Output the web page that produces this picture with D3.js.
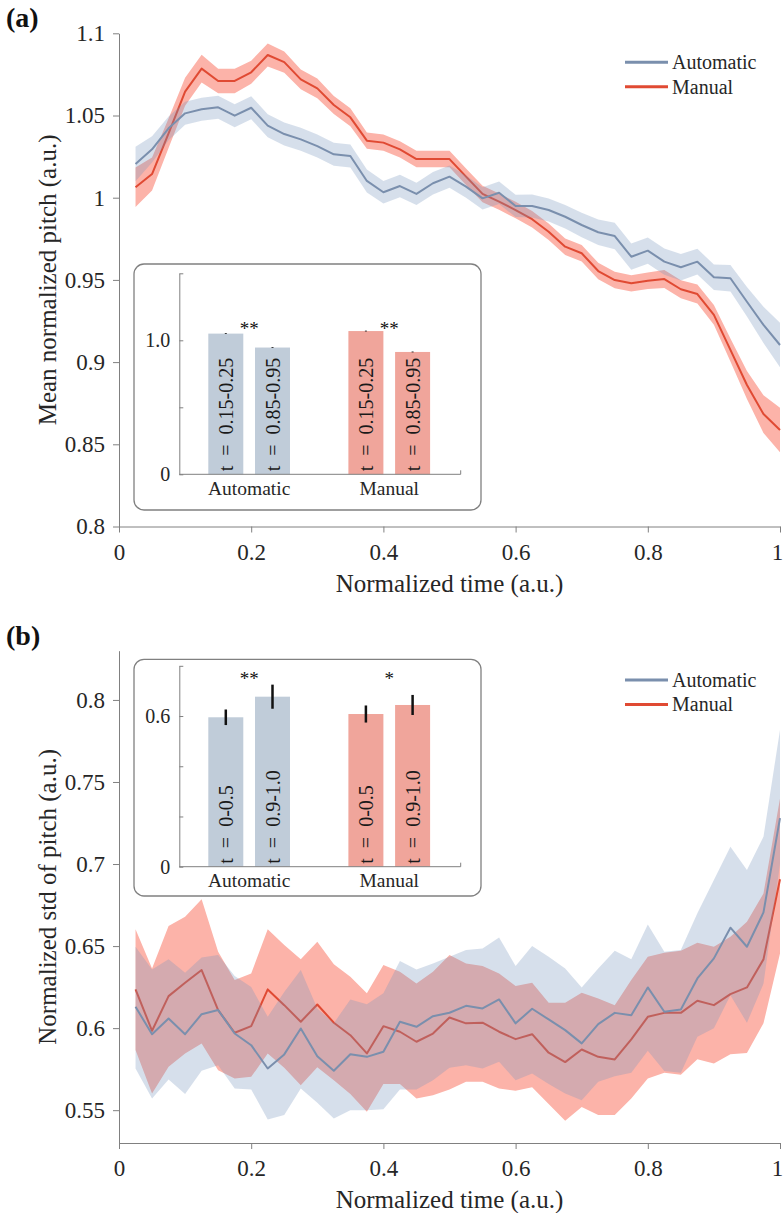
<!DOCTYPE html>
<html>
<head>
<meta charset="utf-8">
<script src="https://cdn.jsdelivr.net/npm/d3@7"></script>
<style>
  body { margin: 0; background: #fff; }
  svg text { font-family: "Liberation Serif", "Times New Roman", serif; fill: #262626; }
</style>
</head>
<body>
<svg id="chart" width="783" height="1213"></svg>
<script>
"use strict";

/* Time grid (normalized) */
const time = [0.025, 0.05, 0.075, 0.1, 0.125, 0.15, 0.175, 0.2, 0.225, 0.25,
  0.275, 0.3, 0.325, 0.35, 0.375, 0.4, 0.425, 0.45, 0.475, 0.5,
  0.525, 0.55, 0.575, 0.6, 0.625, 0.65, 0.675, 0.7, 0.725, 0.75,
  0.775, 0.8, 0.825, 0.85, 0.875, 0.9, 0.925, 0.95, 0.975, 1.0];

/* (a) mean normalized pitch */
const meanAuto = [1.0205, 1.0294, 1.0422, 1.0513, 1.0538, 1.055, 1.0499, 1.0547, 1.0438, 1.0387,
  1.0355, 1.0314, 1.0264, 1.0254, 1.0102, 1.0033, 1.0071, 1.0023, 1.0088, 1.0128,
  1.0067, 0.9996, 1.003, 0.995, 0.995, 0.9925, 0.9884, 0.9834, 0.979, 0.9767,
  0.9641, 0.9678, 0.9611, 0.9577, 0.9611, 0.9516, 0.951, 0.9367, 0.9226, 0.9104];
const semAuto = [0.0105, 0.008, 0.0072, 0.007, 0.007, 0.007, 0.007, 0.007, 0.007, 0.007,
  0.007, 0.007, 0.007, 0.007, 0.007, 0.0068, 0.0068, 0.0068, 0.0068, 0.0068,
  0.0068, 0.0068, 0.0068, 0.0068, 0.007, 0.007, 0.0072, 0.0075, 0.0078, 0.008,
  0.008, 0.008, 0.008, 0.008, 0.0078, 0.0078, 0.008, 0.009, 0.011, 0.0136];
const meanManual = [1.0063, 1.0144, 1.0392, 1.0645, 1.0785, 1.071, 1.071, 1.0763, 1.0868, 1.0825,
  1.072, 1.0665, 1.0564, 1.0489, 1.0347, 1.0335, 1.0294, 1.0235, 1.0235, 1.0235,
  1.0128, 1.0023, 0.9976, 0.9925, 0.9869, 0.9793, 0.9702, 0.9662, 0.9554, 0.9499,
  0.9479, 0.9495, 0.9505, 0.9443, 0.9414, 0.9287, 0.9074, 0.8861, 0.8684, 0.8587];
const semManual = [0.012, 0.01, 0.009, 0.0085, 0.0085, 0.0075, 0.0075, 0.007, 0.007, 0.0065,
  0.006, 0.006, 0.0055, 0.0055, 0.005, 0.005, 0.005, 0.005, 0.005, 0.005,
  0.005, 0.005, 0.005, 0.005, 0.005, 0.005, 0.005, 0.005, 0.005, 0.005,
  0.005, 0.005, 0.0055, 0.0055, 0.0058, 0.006, 0.007, 0.0085, 0.0115, 0.0135];

/* (b) normalized std of pitch, with band limits */
const stdAuto = [0.613, 0.5963, 0.6059, 0.5963, 0.6085, 0.611, 0.5967, 0.5896, 0.5754, 0.584,
  0.5998, 0.5829, 0.574, 0.5841, 0.5825, 0.5856, 0.6039, 0.6008, 0.6073, 0.6094,
  0.6136, 0.612, 0.6175, 0.6029, 0.6118, 0.6053, 0.5988, 0.5907, 0.6024, 0.6093,
  0.6079, 0.6248, 0.61, 0.6114, 0.6303, 0.6425, 0.6612, 0.6496, 0.6705, 0.728];
const stdAutoHi = [0.6496, 0.6358, 0.6419, 0.6337, 0.6431, 0.6445, 0.6317, 0.625, 0.6069, 0.622,
  0.6354, 0.612, 0.603, 0.6175, 0.6146, 0.6212, 0.6409, 0.6358, 0.6394, 0.6435,
  0.6476, 0.6486, 0.6553, 0.6378, 0.65, 0.6435, 0.6364, 0.6248, 0.6364, 0.6471,
  0.6419, 0.6632, 0.6465, 0.6476, 0.67, 0.6902, 0.7106, 0.6963, 0.7167, 0.7817];
const stdAutoLo = [0.5754, 0.5571, 0.5687, 0.5598, 0.574, 0.5774, 0.5632, 0.5626, 0.5443, 0.547,
  0.5632, 0.5545, 0.545, 0.55, 0.55, 0.5506, 0.5626, 0.5626, 0.5683, 0.5758,
  0.5774, 0.5754, 0.5795, 0.5683, 0.5724, 0.5659, 0.5602, 0.5561, 0.5673, 0.5707,
  0.5728, 0.5862, 0.5738, 0.5728, 0.5947, 0.60, 0.62, 0.6033, 0.627, 0.70];
const stdManual = [0.6236, 0.5984, 0.6195, 0.6276, 0.6354, 0.611, 0.5972, 0.6012, 0.6236, 0.614,
  0.6039, 0.6144, 0.6033, 0.5957, 0.5846, 0.6012, 0.5978, 0.5917, 0.5967, 0.6065,
  0.6029, 0.6033, 0.5978, 0.5933, 0.5963, 0.585, 0.5793, 0.587, 0.5825, 0.5809,
  0.5931, 0.6069, 0.6093, 0.6093, 0.6167, 0.614, 0.6207, 0.6248, 0.6419, 0.6907];
const stdManualHi = [0.6602, 0.6364, 0.6622, 0.6679, 0.6785, 0.6465, 0.6293, 0.6333, 0.6602, 0.6506,
  0.6419, 0.6526, 0.639, 0.6313, 0.6212, 0.6384, 0.6343, 0.6272, 0.6343, 0.6445,
  0.6394, 0.6378, 0.6333, 0.6256, 0.6276, 0.6154, 0.6154, 0.6215, 0.6181, 0.614,
  0.6293, 0.6435, 0.6459, 0.6471, 0.652, 0.6496, 0.6557, 0.6648, 0.6821, 0.74];
const stdManualLo = [0.5866, 0.5602, 0.5764, 0.5846, 0.5907, 0.5744, 0.5693, 0.5703, 0.5846, 0.5758,
  0.5652, 0.5762, 0.5683, 0.5598, 0.549, 0.5659, 0.5659, 0.5571, 0.5591, 0.5626,
  0.5673, 0.5673, 0.5632, 0.5618, 0.564, 0.5537, 0.5435, 0.552, 0.547, 0.547,
  0.5571, 0.5693, 0.5728, 0.5716, 0.5811, 0.5785, 0.5841, 0.5848, 0.6029, 0.6455];

/* Inset bars */
const groups = ["Automatic", "Manual"];
const meanBarLabels = ["t\u2002=\u20020.15-0.25", "t\u2002=\u20020.85-0.95"];
const meanBarAuto = [1.05, 0.946];
const meanBarManual = [1.069, 0.913];
const meanErrAuto = [0.003, 0.003];
const meanErrManual = [0.003, 0.003];
const meanStars = ["**", "**"];
const stdBarLabels = ["t\u2002=\u20020-0.5", "t\u2002=\u20020.9-1.0"];
const stdBarAuto = [0.595, 0.677];
const stdBarManual = [0.608, 0.644];
const stdErrAuto = [0.031, 0.048];
const stdErrManual = [0.034, 0.04];
const stdStars = ["**", "*"];

/* Ticks */
const xTicks = [0, 0.2, 0.4, 0.6, 0.8, 1];
const meanTicks = [0.8, 0.85, 0.9, 0.95, 1, 1.05, 1.1];
const stdTicks = [0.55, 0.6, 0.65, 0.7, 0.75, 0.8];
const meanInsetTicks = [0, 0.5, 1.0, 1.5];
const meanInsetLabels = [0, 1.0];
const stdInsetTicks = [0, 0.2, 0.4, 0.6, 0.8];
const stdInsetLabels = [0, 0.6];

const COLORS = {
  autoLine: "#7a8fad", autoBand: "#7896be", autoBar: "#c0ccd9",
  manLine: "#e04a33", manBand: "#fcb3a9", manBar: "#f0a59b",
  axis: "#808080"
};

const svg = d3.select("#chart");
const x = d3.scaleLinear().domain([0, 1]).range([119, 780]);

function styleAxis(g, size) {
  g.attr("font-family", null).attr("font-size", size);
  g.select(".domain").attr("stroke", COLORS.axis);
  g.selectAll(".tick line").attr("stroke", COLORS.axis);
  g.selectAll(".tick text").style("fill", "#262626");
}

function drawPanel(opt) {
  const y = d3.scaleLinear().domain(opt.domain).range([opt.bottom, opt.top]);
  const g = svg.append("g");

  /* Bands and lines: manual underneath, automatic band translucent on top */
  opt.series.forEach(function(s) {
    const area = d3.area()
      .x(function(d, i) { return x(time[i]); })
      .y0(function(d, i) { return y(s.lo[i]); })
      .y1(function(d, i) { return y(s.hi[i]); });
    g.append("path").datum(s.mean)
      .attr("d", area)
      .attr("fill", s.band)
      .attr("fill-opacity", s.bandOpacity);
    g.append("path").datum(s.mean)
      .attr("d", d3.line().x(function(d, i) { return x(time[i]); }).y(function(d) { return y(d); }))
      .attr("fill", "none")
      .attr("stroke", s.color)
      .attr("stroke-width", 2)
      .attr("stroke-linejoin", "round");
  });

  /* Axes */
  const gx = g.append("g")
    .attr("transform", "translate(0," + opt.bottom + ")")
    .call(d3.axisBottom(x).tickValues(xTicks).tickFormat(d3.format("~g"))
      .tickSize(6).tickSizeOuter(0).tickPadding(11));
  styleAxis(gx, 23);
  /* keep the last label inside the page */
  gx.selectAll(".tick text").filter(function(d) { return d === 1; }).attr("dx", "-3");
  const gy = g.append("g")
    .attr("transform", "translate(" + x(0) + ",0)")
    .call(d3.axisLeft(y).tickValues(opt.ticks).tickFormat(d3.format("~g"))
      .tickSize(6).tickSizeOuter(0).tickPadding(8));
  styleAxis(gy, 23);

  /* Axis titles */
  g.append("text")
    .attr("transform", "translate(56," + (opt.top + opt.bottom) / 2 + ") rotate(-90)")
    .attr("text-anchor", "middle")
    .attr("font-size", 25)
    .text(opt.yTitle);
  g.append("text")
    .attr("x", (x(0) + x(1)) / 2)
    .attr("y", opt.bottom + 65)
    .attr("text-anchor", "middle")
    .attr("font-size", 25)
    .text("Normalized time (a.u.)");

  /* Panel label */
  g.append("text")
    .attr("x", 6).attr("y", opt.top - 6)
    .attr("font-size", 28).attr("font-weight", "bold")
    .style("fill", "#111")
    .text(opt.label);

  /* Legend */
  const leg = g.append("g").attr("transform", "translate(625," + opt.legendY + ")");
  [{name: "Automatic", color: COLORS.autoLine}, {name: "Manual", color: COLORS.manLine}]
    .forEach(function(d, i) {
      leg.append("line")
        .attr("x1", 0).attr("x2", 43)
        .attr("y1", i * 24.4).attr("y2", i * 24.4)
        .attr("stroke", d.color).attr("stroke-width", 3);
      leg.append("text")
        .attr("x", 47).attr("y", i * 24.4 + 7)
        .attr("font-size", 20)
        .text(d.name);
    });
  return g;
}

function drawInset(opt) {
  const g = svg.append("g");
  g.append("rect")
    .attr("x", 134).attr("y", opt.boxTop)
    .attr("width", 347).attr("height", opt.boxBottom - opt.boxTop)
    .attr("rx", 10).attr("ry", 10)
    .attr("fill", "#fff")
    .attr("stroke", COLORS.axis).attr("stroke-width", 1.3);

  const y = d3.scaleLinear().domain(opt.domain).range([opt.zero, opt.topPx]);
  const slot = d3.scalePoint().domain([0, 1, 2, 3, 4]).range([225.8, 412.6]);
  const barW = 35;

  const bars = [];
  opt.auto.forEach(function(v, i) {
    bars.push({slot: i, v: v, e: opt.errAuto[i], fill: COLORS.autoBar, label: opt.labels[i]});
  });
  opt.manual.forEach(function(v, i) {
    bars.push({slot: 3 + i, v: v, e: opt.errManual[i], fill: COLORS.manBar, label: opt.labels[i]});
  });

  g.selectAll(".bar").data(bars).enter().append("rect")
    .attr("class", "bar")
    .attr("x", function(d) { return slot(d.slot) - barW / 2; })
    .attr("y", function(d) { return y(d.v); })
    .attr("width", barW)
    .attr("height", function(d) { return y(0) - y(d.v); })
    .attr("fill", function(d) { return d.fill; });

  g.selectAll(".err").data(bars).enter().append("line")
    .attr("class", "err")
    .attr("x1", function(d) { return slot(d.slot); })
    .attr("x2", function(d) { return slot(d.slot); })
    .attr("y1", function(d) { return y(d.v - d.e); })
    .attr("y2", function(d) { return y(d.v + d.e); })
    .attr("stroke", "#111").attr("stroke-width", opt.errWidth);

  g.selectAll(".blabel").data(bars).enter().append("text")
    .attr("class", "blabel")
    .attr("transform", function(d) { return "translate(" + slot(d.slot) + "," + (y(0) - 3) + ") rotate(-90)"; })
    .attr("dy", "0.35em")
    .attr("font-size", 20)
    .style("fill", "#1a1a1a")
    .text(function(d) { return d.label; });

  /* Axes (ticks inward) */
  const gy = g.append("g")
    .attr("transform", "translate(179.3,0)")
    .call(d3.axisLeft(y).tickValues(opt.ticks)
      .tickFormat(function(d) { return opt.tickLabels.indexOf(d) >= 0 ? (d === 0 ? "0" : d3.format(".1f")(d)) : ""; })
      .tickSize(-4).tickSizeOuter(0).tickPadding(9));
  styleAxis(gy, 20);
  g.append("line")
    .attr("x1", 179.3).attr("x2", 460.7)
    .attr("y1", y(0)).attr("y2", y(0))
    .attr("stroke", COLORS.axis);
  g.append("line")
    .attr("x1", 460.7).attr("x2", 460.7)
    .attr("y1", y(0)).attr("y2", y(0) - 4)
    .attr("stroke", COLORS.axis);

  /* Group labels and significance stars */
  groups.forEach(function(name, i) {
    const cx = (slot(i * 3) + slot(i * 3 + 1)) / 2;
    g.append("text")
      .attr("x", cx).attr("y", y(0) + 20.5)
      .attr("text-anchor", "middle")
      .attr("font-size", 19.5)
      .text(name);
    g.append("text")
      .attr("x", cx).attr("y", opt.starY)
      .attr("text-anchor", "middle")
      .attr("font-size", 19)
      .style("fill", "#111")
      .text(opt.stars[i]);
  });
}

/* Panel (a) */
drawPanel({
  top: 33.3, bottom: 526.5, domain: [0.8, 1.1], ticks: meanTicks,
  yTitle: "Mean normalized pitch (a.u.)", label: "(a)", legendY: 62.3,
  series: [
    {mean: meanManual, lo: meanManual.map(function(d, i) { return d - semManual[i]; }),
     hi: meanManual.map(function(d, i) { return d + semManual[i]; }),
     color: COLORS.manLine, band: COLORS.manBand, bandOpacity: 1},
    {mean: meanAuto, lo: meanAuto.map(function(d, i) { return d - semAuto[i]; }),
     hi: meanAuto.map(function(d, i) { return d + semAuto[i]; }),
     color: COLORS.autoLine, band: COLORS.autoBand, bandOpacity: 0.3}
  ]
});
drawInset({
  boxTop: 264, boxBottom: 510, zero: 474.3, topPx: 273.3, domain: [0, 1.5],
  ticks: meanInsetTicks, tickLabels: meanInsetLabels,
  auto: meanBarAuto, manual: meanBarManual, errAuto: meanErrAuto, errManual: meanErrManual,
  labels: meanBarLabels, stars: meanStars, starY: 335, errWidth: 2
});

/* Panel (b) */
drawPanel({
  top: 650.7, bottom: 1143, domain: [0.53, 0.83], ticks: stdTicks,
  yTitle: "Normalized std of pitch (a.u.)", label: "(b)", legendY: 680,
  series: [
    {mean: stdManual, lo: stdManualLo, hi: stdManualHi,
     color: COLORS.manLine, band: COLORS.manBand, bandOpacity: 1},
    {mean: stdAuto, lo: stdAutoLo, hi: stdAutoHi,
     color: COLORS.autoLine, band: COLORS.autoBand, bandOpacity: 0.3}
  ]
});
drawInset({
  boxTop: 659.3, boxBottom: 896, zero: 866.7, topPx: 665.8, domain: [0, 0.8],
  ticks: stdInsetTicks, tickLabels: stdInsetLabels,
  auto: stdBarAuto, manual: stdBarManual, errAuto: stdErrAuto, errManual: stdErrManual,
  labels: stdBarLabels, stars: stdStars, starY: 685, errWidth: 2.5
});
</script>
</body>
</html>
